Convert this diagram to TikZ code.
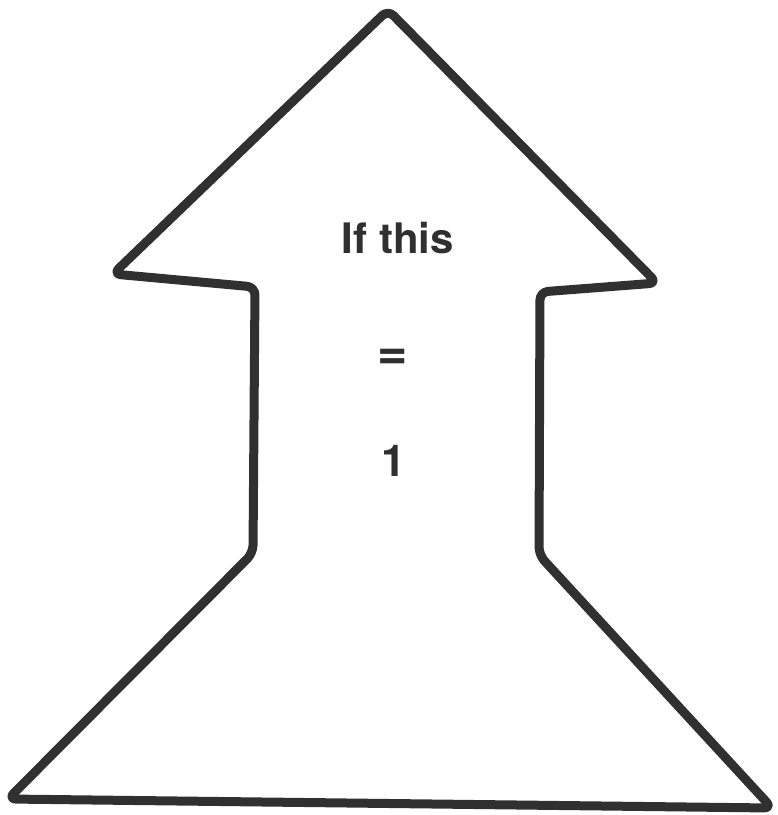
\documentclass[tikz,border=0pt]{standalone}
\usepackage{fontspec}
\setmainfont{TeX Gyre Heros}
\definecolor{ink}{HTML}{303030}
\begin{document}
\begin{tikzpicture}[x=1pt,y=-1pt,
  outline/.style={draw=ink,line width=9pt,line join=round,line cap=round,rounded corners=8pt},
  lbl/.style={text=ink,font=\fontsize{42}{50}\selectfont\bfseries,inner sep=0pt}]
\useasboundingbox (0,0) rectangle (778,815);
\coordinate (apex) at (388,10);
\coordinate (lp) at (113,274);
\coordinate (li) at (255,287);
\coordinate (lb) at (253,553);
\coordinate (bl) at (8,799);
\coordinate (br) at (772,808);
\coordinate (rb) at (539,555);
\coordinate (ri) at (540,292);
\coordinate (rp) at (657,283);
\draw[outline] (apex) -- (lp) -- (li) -- (lb) -- (bl) -- (br) -- (rb) -- (ri) -- (rp) -- cycle;
\node[lbl] (t1) at (398,238) {If this};
\node[lbl,font=\fontsize{52}{60}\selectfont\bfseries] (t2) at (393,359) {=};
\node[lbl,font=\fontsize{44}{52}\selectfont\bfseries] (t3) at (394,461) {1};
\end{tikzpicture}
\end{document}
